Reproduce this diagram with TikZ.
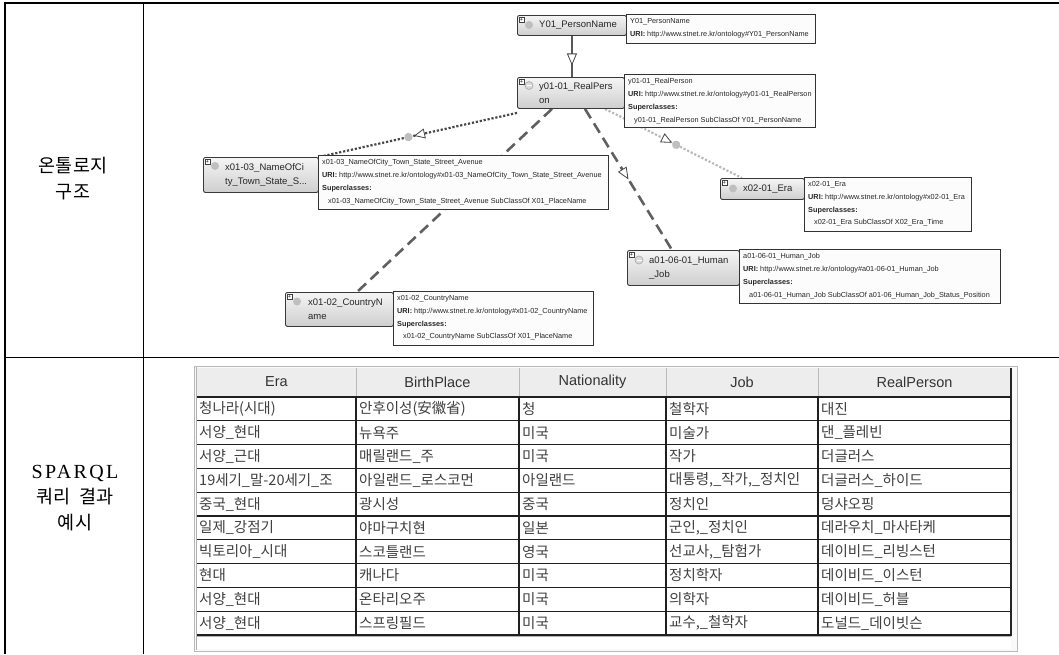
\documentclass[tikz,border=0pt]{standalone}
\usepackage{fontspec}
\setmainfont{Liberation Sans}
\newfontfamily\kr{Noto Sans CJK KR}
\newfontfamily\lser[LetterSpace=12]{Liberation Serif}
\usetikzlibrary{arrows.meta,decorations.markings,backgrounds}
\tikzset{
  cls/.style={draw=gray!45!black, line width=0.9pt, rounded corners=2pt,
    top color=gray!8, bottom color=gray!38, anchor=north west, inner sep=0pt},
  clstxt/.style={anchor=west, inner sep=0pt, align=left,
    font=\fontsize{9.5}{13.5}\selectfont, text=black!85},
  info/.style={draw=gray!40!black, line width=0.9pt, fill=gray!2,
    anchor=north west, inner sep=0pt},
  infotxt/.style={anchor=north west, inner sep=0pt, align=left,
    font=\fontsize{7.3}{12.7}\selectfont, text=black!85},
  plusbox/.style={draw=gray!50!black, fill=white, line width=0.4pt,
    minimum size=5pt, inner sep=0pt, font=\fontsize{5.5}{5.5}\selectfont},
  dotic/.style={circle, fill=gray!50, minimum size=8pt, inner sep=0pt},
  ringic/.style={circle, fill=gray!30, draw=gray!60, line width=0.8pt,
    minimum size=8pt, inner sep=0pt,
    path picture={\draw[white, line width=0.8pt]
      ([xshift=1.5pt]path picture bounding box.west) --
      ([xshift=-1.5pt]path picture bounding box.east);}},
  lbl/.style={align=center, inner sep=0pt, font=\kr\fontsize{18.5}{25.5}\selectfont},
  hdr/.style={inner sep=0pt, font=\fontsize{14.5}{14.5}\selectfont, text=black!80},
  cell/.style={anchor=west, inner sep=0pt, font=\kr\fontsize{14.5}{15}\selectfont, text=black!75},
  dotdark/.style={draw=black!72, line width=2.2pt, dash pattern=on 2.2pt off 1.8pt},
  dotlight/.style={draw=gray!55, line width=2.2pt, dash pattern=on 2.2pt off 1.8pt},
  dashlong/.style={draw=gray!75!black, line width=2.6pt, dash pattern=on 11pt off 6pt},
  solidedge/.style={draw=gray!70!black, line width=1.6pt},
  opentri/.style={decoration={markings, mark=at position #1 with
    {\arrow[gray!55!black]{Triangle[length=12pt, width=10pt, fill=white, line width=0.8pt]}}},
    postaction={decorate}},
  propmark/.style 2 args={decoration={markings,
    mark=at position #1 with {\arrow[gray!55!black]{Triangle[length=11pt, width=10pt, fill=white, line width=0.8pt]}},
    mark=at position #2 with {\fill[gray!50] (0,0) circle (4.2pt);}},
    postaction={decorate}},
}
\begin{document}
\begin{tikzpicture}[x=1pt,y=-1pt]
\useasboundingbox (0,0) rectangle (1059,654);
% outer table frame
\draw[line width=2.4pt] (5,654) -- (5,3.2) -- (1059,3.2);
\draw[line width=1pt] (143,3) -- (143,654);
\draw[line width=1pt] (5,357) -- (1059,357);
% left labels
\node[lbl] (l1) at (73,178.5) {온톨로지\\구조};
\node[lbl] (l2) at (75,498) {{\lser\fontsize{20}{25.5}\selectfont SPARQL}\\쿼리\hspace{9pt}결과\\예시};

% ---------- ontology class nodes ----------
\node[cls, minimum width=109pt, minimum height=20pt] (y01) at (517,15) {};
\node[cls, minimum width=107pt, minimum height=31pt] (rp) at (517,77) {};
\node[cls, minimum width=115pt, minimum height=35pt] (nc) at (203,157) {};
\node[cls, minimum width=84pt, minimum height=21pt] (era) at (720,178) {};
\node[cls, minimum width=112pt, minimum height=35pt] (hj) at (627,250) {};
\node[cls, minimum width=108pt, minimum height=34pt] (cn) at (285,292) {};

\node[clstxt] (y01t) at ([xshift=22pt]y01.west) {Y01\_PersonName};
\node[clstxt] (rpt) at ([xshift=22pt]rp.west) {y01-01\_RealPers\\on};
\node[clstxt] (nct) at ([xshift=22pt]nc.west) {x01-03\_NameOfCi\\ty\_Town\_State\_S...};
\node[clstxt] (erat) at ([xshift=23pt]era.west) {x02-01\_Era};
\node[clstxt] (hjt) at ([xshift=22pt]hj.west) {a01-06-01\_Human\\\_Job};
\node[clstxt] (cnt) at ([xshift=23pt]cn.west) {x01-02\_CountryN\\ame};

\node[plusbox] (y01p) at ([shift={(4.5,4.5)}]y01.north west) {+};
\node[plusbox] (rpp) at ([shift={(4.5,4.5)}]rp.north west) {+};
\node[plusbox] (ncp) at ([shift={(4.5,4.5)}]nc.north west) {+};
\node[plusbox] (erap) at ([shift={(4.5,4.5)}]era.north west) {+};
\node[plusbox] (hjp) at ([shift={(4.5,4.5)}]hj.north west) {+};
\node[plusbox] (cnp) at ([shift={(4.5,4.5)}]cn.north west) {+};

\node[dotic] (y01d) at ([shift={(12,10)}]y01.north west) {};
\node[ringic] (rpd) at ([shift={(12,8.5)}]rp.north west) {};
\node[dotic] (ncd) at ([shift={(12,9)}]nc.north west) {};
\node[dotic] (erad) at ([shift={(13,10.5)}]era.north west) {};
\node[ringic] (hjd) at ([shift={(12,10)}]hj.north west) {};
\node[dotic] (cnd) at ([shift={(12,9.5)}]cn.north west) {};

% ---------- info boxes ----------
\node[info, minimum width=189pt, minimum height=29pt] (i1) at (626,14) {};
\node[info, minimum width=191pt, minimum height=53pt] (i2) at (624,74) {};
\node[info, minimum width=290pt, minimum height=54pt] (i3) at (318,155) {};
\node[info, minimum width=167pt, minimum height=54pt] (i4) at (804,177) {};
\node[info, minimum width=261pt, minimum height=54pt] (i5) at (739,249) {};
\node[info, minimum width=200pt, minimum height=54pt] (i6) at (393,291) {};

\node[infotxt] (i1t) at ([shift={(4,4.5)}]i1.north west)
  {Y01\_PersonName\\\textbf{URI:} http://www.stnet.re.kr/ontology\#Y01\_PersonName};
\node[infotxt] (i2t) at ([shift={(4,4.5)}]i2.north west)
  {y01-01\_RealPerson\\\textbf{URI:} http://www.stnet.re.kr/ontology\#y01-01\_RealPerson\\\textbf{Superclasses:}\\\hspace*{6pt}y01-01\_RealPerson SubClassOf Y01\_PersonName};
\node[infotxt] (i3t) at ([shift={(4,4.5)}]i3.north west)
  {x01-03\_NameOfCity\_Town\_State\_Street\_Avenue\\\textbf{URI:} http://www.stnet.re.kr/ontology\#x01-03\_NameOfCity\_Town\_State\_Street\_Avenue\\\textbf{Superclasses:}\\\hspace*{6pt}x01-03\_NameOfCity\_Town\_State\_Street\_Avenue SubClassOf X01\_PlaceName};
\node[infotxt] (i4t) at ([shift={(4,4.5)}]i4.north west)
  {x02-01\_Era\\\textbf{URI:} http://www.stnet.re.kr/ontology\#x02-01\_Era\\\textbf{Superclasses:}\\\hspace*{6pt}x02-01\_Era SubClassOf X02\_Era\_Time};
\node[infotxt] (i5t) at ([shift={(4,4.5)}]i5.north west)
  {a01-06-01\_Human\_Job\\\textbf{URI:} http://www.stnet.re.kr/ontology\#a01-06-01\_Human\_Job\\\textbf{Superclasses:}\\\hspace*{6pt}a01-06-01\_Human\_Job SubClassOf a01-06\_Human\_Job\_Status\_Position};
\node[infotxt] (i6t) at ([shift={(4,4.5)}]i6.north west)
  {x01-02\_CountryName\\\textbf{URI:} http://www.stnet.re.kr/ontology\#x01-02\_CountryName\\\textbf{Superclasses:}\\\hspace*{6pt}x01-02\_CountryName SubClassOf X01\_PlaceName};

% ---------- connectors (behind) ----------
\begin{pgfonlayer}{background}
\draw[solidedge, opentri=0.72] (y01.south) -- (y01.south |- rp.north);
\draw[dotdark, propmark={0.52}{0.548}] ([yshift=-4pt]rp.south west) -- (nc.north east);
\draw[dashlong] ([xshift=35pt]rp.south west) -- ([xshift=72pt]cn.north west);
\draw[dashlong, opentri=0.5] ([xshift=68pt]rp.south west) -- ([xshift=45pt]hj.north west);
\draw[dotlight, propmark={0.49}{0.52}] ([xshift=88pt]rp.south west) -- ([xshift=22pt]era.north west);
\end{pgfonlayer}

% ---------- result table ----------
\draw[gray!55, fill=gray!5] (194,366) rectangle (1017,651);
\fill[white] (197,397) rectangle (1011,649);
\fill[gray!14] (197,368) rectangle (1011,397);
\draw[gray!60, line width=1.6pt] (196.5,367) -- (196.5,650);
\foreach \xx in {356,519,666,818} {
  \draw[gray!55, line width=0.8pt] (\xx,368) -- (\xx,397);
}
\draw[gray!30!black, line width=1.4pt] (1011,368) -- (1011,636);
\foreach \k in {0,...,10} {
  \draw[gray!25!black, line width=1.3pt] (197,{397+\k*23.8}) -- (1011,{397+\k*23.8});
}
\foreach \xx in {356,519,666,818} {
  \draw[gray!25!black, line width=1.3pt] (\xx,397) -- (\xx,635);
}
\draw[gray!60] (197,636) -- (1011,636);

\node[hdr] (h1) at (276.5,382) {Era};
\node[hdr] (h2) at (437.5,382) {BirthPlace};
\node[hdr] (h3) at (592.5,382) {Nationality};
\node[hdr] (h4) at (742,382) {Job};
\node[hdr] (h5) at (914.5,382) {RealPerson};

\foreach \a/\b/\c/\d/\e [count=\i] in {
  {청나라(시대)}/{안후이성(安徽省)}/{청}/{철학자}/{대진},
  {서양\_현대}/{뉴욕주}/{미국}/{미술가}/{댄\_플레빈},
  {서양\_근대}/{매릴랜드\_주}/{미국}/{작가}/{더글러스},
  {19세기\_말-20세기\_조}/{아일랜드\_로스코먼}/{아일랜드}/{대통령,\_작가,\_정치인}/{더글러스\_하이드},
  {중국\_현대}/{광시성}/{중국}/{정치인}/{덩샤오핑},
  {일제\_강점기}/{야마구치현}/{일본}/{군인,\_정치인}/{데라우치\_마사타케},
  {빅토리아\_시대}/{스코틀랜드}/{영국}/{선교사,\_탐험가}/{데이비드\_리빙스턴},
  {현대}/{캐나다}/{미국}/{정치학자}/{데이비드\_이스턴},
  {서양\_현대}/{온타리오주}/{미국}/{의학자}/{데이비드\_허블},
  {서양\_현대}/{스프링필드}/{미국}/{교수,\_철학자}/{도널드\_데이빗슨}} {
  \pgfmathsetmacro\yy{397+(\i-0.5)*23.8}
  \node[cell] (ca\i) at (199,\yy) {\a};
  \node[cell] (cb\i) at (359,\yy) {\b};
  \node[cell] (cc\i) at (522,\yy) {\c};
  \node[cell] (cd\i) at (669,\yy) {\d};
  \node[cell] (ce\i) at (821,\yy) {\e};
}
\end{tikzpicture}
\end{document}
